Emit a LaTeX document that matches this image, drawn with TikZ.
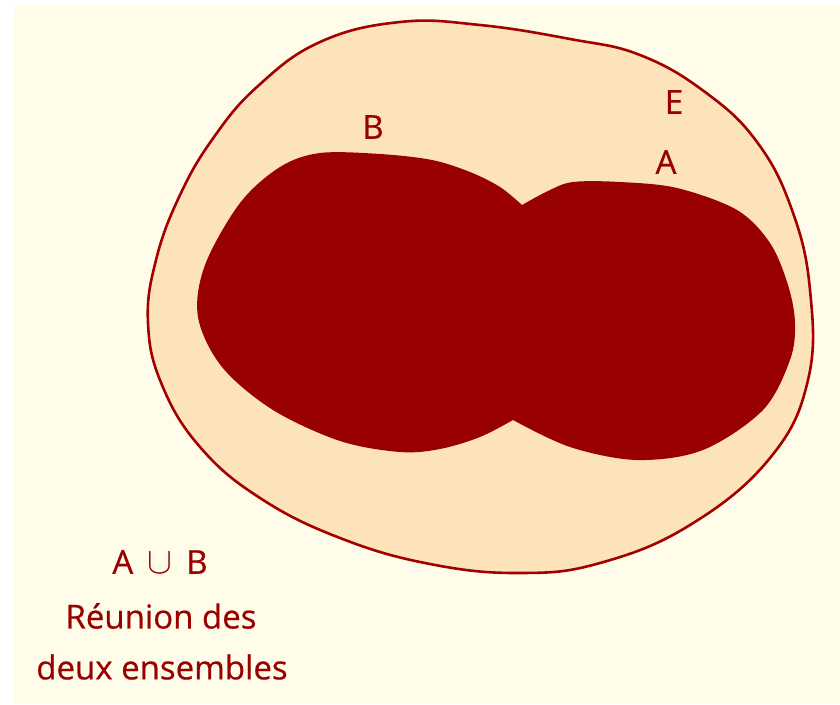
\documentclass[tikz,border=0pt]{standalone}
\usepackage{fontspec}
\setmainfont{Open Sans}
\newfontfamily\lblfont{Open Sans}[FakeBold=0.5]
\definecolor{bgcol}{HTML}{FFFDE9}
\definecolor{peach}{HTML}{FCE3BA}
\definecolor{dred}{HTML}{990000}
\definecolor{ored}{HTML}{A30000}
\begin{document}
\begin{tikzpicture}[x=1pt,y=-1pt,
  lbl/.style={text=dred,font=\lblfont\fontsize{33}{38}\selectfont,inner sep=0pt,anchor=center},
  outerset/.style={fill=peach,draw=ored,line width=2.6pt},
  unionset/.style={fill=dred}]
\useasboundingbox (0,0) rectangle (840,704);
\fill[white] (0,0) rectangle (840,704);
\fill[bgcol] (13,5) rectangle (840,704);
% set E
\path[outerset] plot[smooth cycle,tension=0.7] coordinates {
 (400,22) (480,25) (570,39) (640,55) (705,92) (757,142) (792,210) (810,290)
 (808,380) (770,458) (690,525) (600,563) (520,573) (430,564) (340,538)
 (260,498) (200,447) (162,385) (148,323) (156,260) (180,195) (214,137)
 (258,86) (320,42)};
% union A u B
\path[unionset] plot[smooth,tension=0.55] coordinates {
 (522,205) (548,191) (573,182) (620,182) (677,188) (737,210) (770,243)
 (788,285) (795,323) (790,360) (763,410) (703,450) (637,460) (570,447) (513,420)}
 -- plot[smooth,tension=0.55] coordinates {
 (513,420) (480,437) (440,449) (400,452) (340,441) (273,410) (222,367)
 (198,317) (205,265) (240,203) (280,167) (320,153) (380,154) (432,160)
 (470,172) (500,187) (522,205)} -- cycle;
% labels
\node[lbl] (labB) at (373,127) {B};
\node[lbl] (labE) at (674,102) {E};
\node[lbl] (labA) at (666,162) {A};
\node[lbl] (leg1) at (160,562) {A\, \scalebox{1.5}{$\cup$}\, B};
\node[lbl] (leg2) at (161,616) {Réunion des};
\node[lbl] (leg3) at (162,667) {deux ensembles};
\end{tikzpicture}
\end{document}
